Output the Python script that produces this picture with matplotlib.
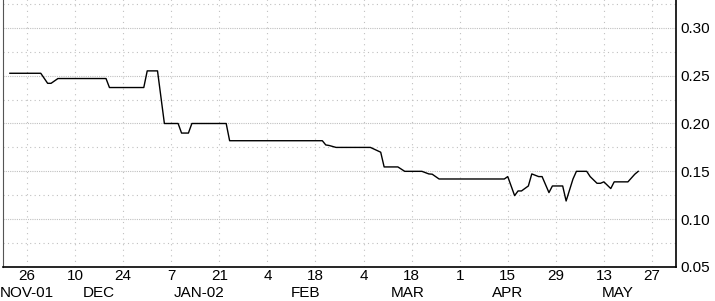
"""
Line chart of a daily rate, Nov 2001 - May 2002.
"""
import datetime as dt
import matplotlib
matplotlib.use("Agg")
import matplotlib.pyplot as plt
import matplotlib.dates as mdates

plt.rcParams['font.family'] = ['Liberation Sans', 'DejaVu Sans']

# days counted from 26 Nov 2001
day_offsets = [-5, 4, 6, 7, 9, 23, 24, 34, 35, 38, 40, 44, 45, 47, 48, 58, 59,
               86, 87, 88, 90, 100, 103, 104, 108, 110, 115, 117, 118, 120,
               139, 140, 142, 143, 144, 146, 147, 149, 150, 152, 153, 156, 157,
               159, 160, 163, 164, 166, 167, 168, 170, 171, 175, 177, 178]
values = [0.2525, 0.2525, 0.242, 0.242, 0.247, 0.247, 0.2376, 0.2376, 0.255,
          0.255, 0.200, 0.200, 0.190, 0.190, 0.200, 0.200, 0.182,
          0.182, 0.1776, 0.177, 0.175, 0.175, 0.170, 0.1546, 0.1546, 0.150,
          0.150, 0.1473, 0.147, 0.142,
          0.142, 0.1445, 0.1246, 0.1295, 0.1295, 0.1347, 0.1473, 0.1445, 0.1445,
          0.1278, 0.1347, 0.1347, 0.119,
          0.142, 0.150, 0.150, 0.1445, 0.1375, 0.1375, 0.139, 0.132, 0.139,
          0.139, 0.147, 0.150]

tick_days = [26, 10, 24, 7, 21, 4, 18, 4, 18, 1, 15, 29, 13, 27]
month_labels = ["NOV-01", "DEC", "JAN-02", "FEB", "MAR", "APR", "MAY"]
month_pos = ["2001-11-26", "2001-12-17", "2002-01-15", "2002-02-15",
             "2002-03-17", "2002-04-15", "2002-05-17"]
y_ticks = [0.05, 0.10, 0.15, 0.20, 0.25, 0.30]

start = dt.date(2001, 11, 26)
dates = [start + dt.timedelta(days=d) for d in day_offsets]
tick_dates = [start + dt.timedelta(days=14 * i) for i in range(len(tick_days))]

fig = plt.figure(figsize=(7.15, 3.01), dpi=100)
ax = fig.add_axes([3 / 715, 34 / 301, 673 / 715, 287 / 301])

ax.plot(dates, values, color='black', linewidth=1.0)

ax.set_xlim(start - dt.timedelta(days=7), start + dt.timedelta(days=189))
ax.set_ylim(0.05, 0.35)

# x axis: day numbers + month labels underneath
ax.set_xticks(tick_dates)
ax.set_xticklabels([str(d) for d in tick_days], fontsize=11)
for lab, pos in zip(month_labels, month_pos):
    ax.annotate(lab, xy=(mdates.datestr2num(pos), 0), xycoords=('data', 'axes fraction'),
                xytext=(0, -21.5), textcoords='offset points', ha='center', va='baseline',
                fontsize=11)

# y axis on the right
ax.yaxis.tick_right()
ax.set_yticks(y_ticks)
ax.set_yticklabels([f"{v:.2f}" for v in y_ticks], fontsize=11)
ax.set_yticks([0.075, 0.125, 0.175, 0.225, 0.275, 0.325], minor=True)
ax.tick_params(axis='both', which='both', length=0)
ax.tick_params(axis='x', pad=1.5)
ax.tick_params(axis='y', pad=3)

# grid
ax.grid(axis='y', which='major', color='#c0c0c0', linestyle=(0, (1, 1)), linewidth=0.8)
ax.grid(axis='y', which='minor', color='#c0c0c0', linestyle=(0, (1, 3)), linewidth=0.8)
ax.grid(axis='x', which='major', color='#c0c0c0', linestyle=(0, (1, 4)), linewidth=0.8)

ax.spines['left'].set_color('#555555')
for s in ['right', 'bottom']:
    ax.spines[s].set_color('black')
    ax.spines[s].set_linewidth(1.2)

fig.savefig('out.png', dpi=100)
